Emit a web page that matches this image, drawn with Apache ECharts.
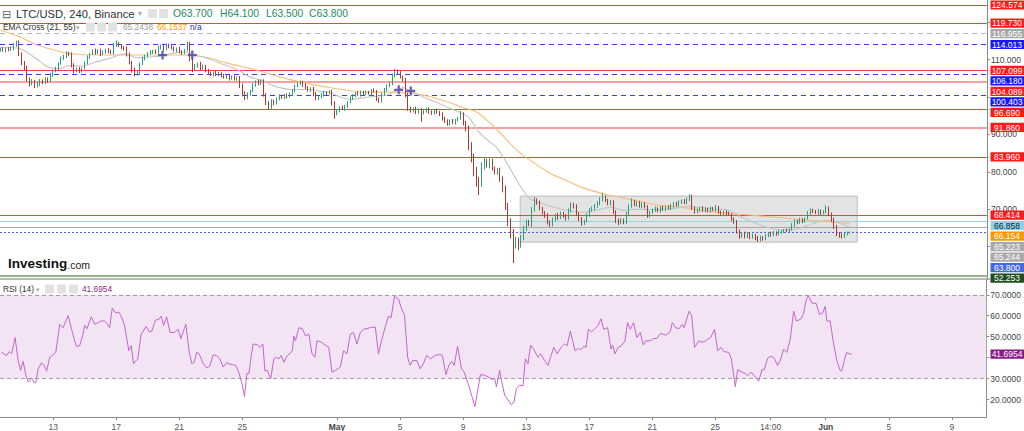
<!DOCTYPE html>
<html><head><meta charset="utf-8">
<script src="https://cdn.jsdelivr.net/npm/echarts@6/dist/echarts.min.js"></script>
<style>html,body{margin:0;padding:0;background:#fff}#c{width:1024px;height:431px}</style>
</head><body><div id="c"></div>
<script>
// ---- DATA (4-hour bars, bar 0 = 9 Apr 16:00) ----
const firstOpen = 112.5;
const closes = [
112.8,112.4,112.9,112.6,113.0,113.8,114.6,111.5,109.0,107.8,
104.8,103.6,104.2,102.9,103.5,104.4,103.9,104.8,104.3,105.8,
106.9,107.6,109.0,110.2,110.9,111.7,111.3,108.5,107.0,107.5,
106.9,107.6,109.2,110.6,111.5,112.3,111.8,112.4,111.5,112.0,
112.6,112.2,111.7,113.8,114.4,113.6,113.2,112.9,111.4,109.2,
107.3,106.2,106.6,108.8,110.3,111.0,111.6,112.0,112.3,111.9,
113.2,113.6,112.8,113.9,113.5,113.1,112.4,112.9,112.1,111.8,
112.5,114.2,110.1,107.4,108.2,108.9,107.8,108.3,107.0,106.4,
106.0,106.5,105.9,106.3,105.7,105.2,105.6,104.9,105.3,104.8,
105.2,103.0,101.0,99.9,100.8,101.6,103.2,104.0,103.5,104.2,
100.6,98.6,98.0,98.9,98.4,99.6,100.2,99.8,100.5,100.1,
100.7,101.8,102.9,103.6,104.0,103.2,102.4,101.8,102.3,100.8,
99.6,99.9,100.6,101.2,100.9,101.4,98.3,95.6,96.3,97.2,
96.8,97.5,98.6,99.7,100.4,101.0,100.6,101.3,100.8,101.2,
101.0,101.8,101.5,99.5,98.9,100.6,102.0,103.0,103.4,105.6,
107.0,106.4,105.3,104.6,100.5,97.0,96.3,96.9,96.0,96.5,
95.8,96.2,96.7,96.1,95.7,96.4,96.0,95.5,94.2,93.4,
92.9,93.6,93.1,93.8,94.3,95.4,93.0,91.6,87.0,84.0,
80.6,78.0,76.8,81.3,82.6,81.7,82.9,80.9,79.8,80.4,
78.2,75.5,71.0,67.0,63.8,61.0,61.8,60.5,62.4,64.8,
66.6,66.0,69.9,72.3,71.8,70.2,69.0,68.3,66.6,65.8,
67.3,68.4,67.8,68.9,68.2,67.6,69.6,71.3,70.8,68.8,
67.4,66.3,66.9,68.5,69.8,70.3,70.8,71.6,72.5,73.2,
72.4,71.5,72.0,69.4,67.0,66.5,67.2,66.6,68.8,70.9,
72.0,71.2,71.7,70.8,71.5,70.6,68.3,69.2,69.8,70.2,
69.6,70.4,70.0,70.6,70.3,70.9,71.6,71.2,71.9,72.3,
71.8,72.6,73.4,70.4,69.3,69.8,70.3,69.7,70.1,69.6,
70.2,69.9,70.6,69.2,68.8,69.3,68.9,68.7,67.4,66.6,
64.2,62.9,63.6,62.8,63.4,62.6,63.1,62.4,62.0,62.5,
62.2,62.9,63.5,63.2,63.8,63.4,63.9,64.0,64.4,64.2,
64.6,65.8,66.9,66.4,67.2,66.8,67.5,69.0,69.8,69.4,
69.0,69.6,68.9,69.3,70.2,68.7,67.2,65.4,63.6,63.1,
62.8,63.4,63.7,63.8];
const upWick = [
.4,.5,.3,.4,.5,.6,.4,.5,.4,.6, .5,.4,.6,.3,.5,.4,.3,.5,.4,.6,
.4,.5,.3,.6,.4,.5,.4,.6,.5,.4, .5,.3,.4,.5,.3,.4,.6,.3,.5,.4,
.3,.5,.4,.6,.7,.3,.5,.4,.6,.5, .4,.6,.3,.4,.5,.3,.4,.5,.3,.4,
.5,.4,.6,.4,.3,.5,.4,.3,.5,.4, .3,.6,.5,.4,.6,.3,.5,.4,.3,.5,
.4,.3,.5,.4,.3,.5,.4,.3,.4,.5, .3,.4,.6,.5,.4,.3,.5,.4,.6,.4,
.5,.4,.3,.5,.4,.3,.5,.4,.3,.4, .5,.3,.4,.5,.4,.3,.4,.5,.3,.4,
.5,.3,.4,.5,.3,.4,.5,.6,.4,.3, .5,.4,.3,.5,.4,.3,.5,.4,.3,.5,
.4,.3,.5,.4,.3,.5,.4,.3,.5,.6, .6,.4,.5,.4,.5,.6,.4,.3,.5,.4,
.5,.3,.4,.5,.3,.4,.5,.3,.4,.5, .6,.4,.5,.3,.4,.9,.5,.6,.8,.9,
.8,.7,.6,1.2,1.3,.8,.7,.6,.5,.6, .7,.6,.8,.7,.6,.9,.8,.6,.7,.8,
.6,.5,.7,1.0,.6,.5,.4,.5,.6,.4, .5,.4,.6,.5,.4,.5,.6,.5,.4,.5,
.4,.5,.3,.4,.5,.4,.6,.5,.7,1.2, .5,.4,.5,.4,.3,.5,.4,.3,.5,.4,
.9,.5,.4,.5,.3,.4,.5,.3,.4,.5, .3,.4,.5,.3,.4,.5,.3,.4,.5,.3,
.4,.5,.6,.5,.3,.4,.3,.5,.4,.3, .5,.4,.5,.3,.4,.3,.4,.5,.3,.4,
.5,.4,.3,.4,.5,.3,.4,.3,.5,.4, .3,.4,.3,.5,.4,.3,.5,.4,.3,.4,
.3,.5,.4,.3,.5,.4,.3,.5,.4,.3, .4,.5,.3,.4,.8,.5,.4,.5,.4,.3,
.4,.3,.3,.3];
const dnWick = [
.4,.3,.5,.4,.3,.5,.4,.6,.5,.7, .6,.8,.5,.5,.4,.6,.5,.4,.5,.3,
.4,.3,.5,.4,.3,.5,.4,.6,.7,.4, .5,.4,.3,.5,.4,.3,.5,.4,.6,.3,
.4,.5,.3,.4,.5,.3,.4,.5,.6,.5, .8,.7,.5,.4,.3,.5,.4,.3,.5,.4,
.3,.5,.4,.3,.5,.4,.3,.5,.4,.6, .4,.3,.6,.8,.5,.4,.6,.5,.4,.5,
.4,.5,.3,.4,.5,.3,.4,.5,.3,.4, .5,.6,.8,.7,.5,.4,.3,.5,.4,.3,
.5,.8,1.5,1.2,.6,.4,.5,.3,.4,.5, .3,.4,.5,.3,.4,.5,.3,.4,.5,.6,
.5,.4,.3,.5,.4,.3,.6,1.4,.5,.4, .3,.5,.4,.3,.5,.4,.3,.5,.4,.3,
.4,.5,.3,.6,.5,.4,.3,.5,.4,.3, .4,.5,.4,.5,.6,.7,.5,.4,.6,.5,
2.4,.5,.4,.6,.5,.4,.5,.6,.5,.4, .6,.5,.4,.5,.3,.4,.6,.8,1.2,1.5,
1.8,2.0,3.0,.8,.7,.6,.7,.6,.5,.6, .9,1.0,1.2,1.5,1.6,5.4,1.5,1.4,.8,.7,
.6,.5,.7,.5,.6,.5,.4,.6,.7,.5, .4,.5,.6,.4,.5,.6,.4,.5,.6,.5,
.6,.7,.5,.4,.5,.4,.5,.4,.5,.4, .5,.4,.5,.6,.7,.8,.5,.6,.5,.4,
.5,.4,.5,.4,.5,.4,.6,.5,.4,.5, .4,.5,.4,.5,.4,.5,.4,.5,.4,.5,
.4,.5,.4,.6,.5,.4,.5,.4,.5,.4, .5,.4,.5,.4,.5,.4,.5,.4,.6,.5,
.7,.8,.5,.6,.5,.6,.5,.7,.8,.6, .6,.5,.4,.5,.4,.5,.4,.5,.4,.3,
.4,.3,.5,.4,.3,.5,.4,.3,.5,.4, .3,.5,.4,.3,.4,.5,.6,.7,.8,.7,
.6,.5,.4,.2];
// EMA Cross (21, 55): vertices [bar, value]
const ema21 = [[0,113.2],[6,113.1],[9,112.4],[14,110.0],[18,108.0],[22,107.5],[26,108.4],[31,108.2],[36,109.3],[42,110.4],[47,111.5],[52,110.5],[59,110.8],[65,111.6],[70,112.0],[74,111.2],[77,110.7],[84,108.9],[90,107.3],[95,105.3],[100,104.3],[104,102.9],[111,102.0],[118,102.0],[122,101.4],[125,101.3],[128,100.3],[133,99.4],[140,100.0],[147,100.5],[151,101.8],[153,102.5],[155,101.9],[160,100.2],[167,98.2],[171,96.9],[175,95.8],[178,94.6],[182,90.6],[186,88.0],[189,86.2],[193,81.8],[195,79.3],[198,75.8],[201,73.0],[205,71.7],[209,70.8],[215,69.8],[222,69.2],[228,70.0],[232,70.5],[237,69.7],[242,70.0],[246,69.9],[255,70.1],[262,70.8],[266,70.5],[272,70.0],[277,69.8],[281,68.2],[285,66.9],[290,65.5],[295,64.6],[300,64.4],[304,64.9],[309,66.2],[314,67.0],[317,66.8],[320,66.0],[323,65.2438]];
const ema55 = [[-0.2,117.9],[7.4,116.0],[13.8,113.9],[20.6,112.5],[25.2,111.7],[37.7,111.2],[52.8,111.2],[70.7,111.2],[79.4,110.4],[85.8,109.1],[97.2,107.2],[110.9,104.5],[126.0,102.4],[138.9,101.3],[151.4,101.3],[163.9,100.0],[176.8,97.0],[181.7,95.7],[189.3,90.9],[195.8,86.1],[199.5,84.0],[208.3,79.9],[214.7,77.8],[221.5,75.7],[231.0,73.8],[240.5,72.5],[250.0,71.1],[261.3,70.3],[271.6,69.3],[284.1,68.5],[296.6,67.7],[306.8,67.1],[315.5,66.6],[323.1,66.1537]];
const crossPoints = [[61.6,111.2],[72.9,111.2],[151.4,101.9],[156.0,101.6]];
// RSI (14) vertices [bar, value]
const rsi = [[0.4,42.5],[2.3,41.0],[3.3,42.9],[4.2,41.8],[5.5,49.6],[6.7,38.6],[7.6,33.9],[8.6,38.2],[9.6,31.6],[10.5,28.4],[11.8,30.3],[12.7,28.1],[13.4,28.0],[14.3,34.7],[15.6,37.5],[16.6,36.3],[17.5,33.5],[18.7,40.2],[20.0,41.3],[21.0,42.5],[22.5,55.9],[23.8,54.3],[25.7,60.1],[27.0,53.5],[28.8,45.4],[30.1,45.7],[31.4,51.2],[32.0,55.4],[32.9,53.8],[34.5,59.5],[35.8,55.9],[37.0,56.7],[38.3,57.5],[39.6,57.5],[40.2,56.7],[41.5,54.3],[42.5,63.7],[43.7,61.4],[45.0,61.7],[45.9,59.8],[47.2,55.1],[48.8,43.3],[49.7,45.7],[50.6,37.1],[52.2,39.4],[53.5,51.2],[55.4,54.8],[56.6,52.3],[57.6,52.7],[58.9,57.9],[60.2,58.2],[61.1,59.8],[62.0,55.4],[63.2,59.5],[64.5,52.0],[66.1,52.0],[66.7,52.7],[67.6,53.5],[68.6,49.1],[69.9,53.8],[70.5,55.9],[71.8,42.5],[72.8,37.1],[73.7,37.8],[74.6,42.5],[75.6,41.8],[77.1,37.1],[78.4,35.0],[79.6,36.0],[80.9,41.3],[82.2,41.0],[83.4,39.4],[84.7,35.5],[86.0,37.5],[87.0,37.1],[88.2,36.6],[89.5,36.3],[90.7,32.8],[92.0,26.9],[92.8,21.4],[93.7,32.4],[94.5,32.4],[95.4,41.0],[96.1,46.5],[97.7,46.2],[98.7,44.9],[99.8,46.5],[100.6,33.6],[101.5,33.9],[102.8,30.0],[104.0,39.4],[104.9,40.2],[105.9,39.4],[106.8,41.0],[107.8,37.8],[109.1,41.0],[110.0,41.8],[111.0,43.3],[111.6,50.4],[112.2,48.0],[113.5,54.3],[114.8,53.8],[116.0,50.4],[117.3,51.2],[118.5,41.8],[119.6,40.2],[120.4,48.0],[121.7,47.6],[123.0,46.5],[124.9,44.9],[126.1,33.1],[127.4,33.9],[129.3,35.5],[130.5,43.3],[131.8,41.8],[133.1,51.2],[134.3,52.0],[135.6,46.5],[136.9,52.0],[138.1,53.5],[140.7,54.3],[142.6,54.6],[143.8,41.8],[145.1,48.8],[146.3,54.3],[147.6,59.8],[148.6,59.0],[149.9,69.2],[151.4,68.0],[152.7,62.9],[153.7,60.6],[154.9,40.2],[155.8,36.3],[156.8,38.6],[158.4,38.6],[159.6,34.7],[160.9,37.1],[162.1,41.0],[163.7,39.4],[165.3,41.0],[167.2,41.5],[168.1,41.0],[169.5,31.9],[170.6,36.3],[171.6,38.2],[172.6,36.3],[173.9,45.4],[175.4,34.7],[176.4,33.1],[177.9,27.6],[179.2,22.2],[180.5,16.7],[181.7,25.3],[182.6,31.9],[184.2,31.6],[185.5,30.8],[186.8,29.7],[188.0,30.0],[188.7,26.1],[189.9,33.9],[190.6,29.2],[191.8,22.2],[193.1,19.8],[194.4,17.5],[195.4,19.0],[196.3,25.3],[197.5,26.9],[198.8,26.5],[199.7,39.4],[200.7,37.1],[201.7,46.0],[203.2,43.3],[204.5,40.2],[205.5,41.8],[207.0,38.6],[208.3,36.3],[209.5,41.0],[210.5,44.9],[211.8,41.8],[213.3,44.9],[214.6,46.5],[215.6,45.7],[216.8,52.7],[217.7,48.0],[218.6,43.3],[219.9,44.4],[220.9,43.8],[221.9,45.4],[222.8,44.9],[223.7,53.5],[224.9,52.3],[225.9,53.5],[227.2,55.1],[228.5,58.5],[229.5,53.5],[231.0,54.3],[232.3,44.1],[232.9,46.0],[233.8,41.8],[235.0,44.9],[236.3,45.7],[237.6,48.0],[238.6,56.7],[239.6,53.5],[240.9,56.7],[242.1,49.6],[243.4,52.0],[244.6,46.0],[245.5,48.0],[247.2,48.0],[248.4,49.1],[249.7,49.1],[251.2,51.6],[253.1,50.7],[254.8,52.3],[255.6,56.7],[256.9,54.3],[258.2,53.8],[259.4,55.9],[260.1,54.3],[262.0,62.2],[263.0,60.1],[264.1,44.9],[265.7,48.0],[267.0,47.3],[268.3,48.0],[270.2,49.6],[271.7,53.5],[272.9,43.3],[274.2,44.9],[275.2,42.9],[277.1,42.5],[278.1,39.4],[279.6,26.1],[280.5,34.2],[282.2,33.1],[283.4,32.4],[284.3,31.3],[285.6,33.1],[287.2,30.8],[288.5,28.7],[289.8,34.4],[290.6,34.2],[291.9,39.7],[293.2,40.7],[294.4,39.7],[295.7,36.3],[296.7,38.6],[298.0,44.1],[299.2,42.5],[300.5,48.8],[301.8,62.2],[302.8,57.5],[304.3,58.2],[305.5,60.6],[306.6,67.6],[307.4,69.5],[308.7,66.1],[310.4,65.8],[311.6,60.6],[312.9,61.4],[313.8,64.5],[314.4,57.5],[315.7,57.5],[316.9,47.3],[318.2,38.6],[319.5,33.9],[320.1,33.5],[321.4,40.2],[322.0,42.5],[323.0,41.8],[323.9,41.6954]];
const rsiLast = 41.6954;
const rsiBand = [30, 70];
// drawn levels (price) and their kind
const levelValues = [124.574,119.730,116.955,114.013,107.099,106.180,104.089,100.403,96.690,91.860,83.960,68.414,66.858,65.223,63.800,52.253];
const levelKinds  = ['red','red','greyDash','blueDash','red','blueDash','pink','blueDash','red','pink','red','red','cyan','grey','priceDot','green'];
// right-hand price tags, top to bottom
const tagValues = [124.574,119.730,116.955,114.013,107.099,106.180,104.089,100.403,96.690,91.860,83.960,68.414,66.858,66.154,65.223,65.244,63.800,52.253];
const tagKinds  = ['red','red','grey','blue','red','blue','red','blue','red','red','red','red','cyan','orange','grey','grey','price','green'];
// rectangle drawing: bars and prices
const boxBars = [197.6, 325.8];
const boxPrices = [73.5, 61.2];
// axes
const xTickBars  = [20,44,68,92,128,152,176,200,224,248,272,293,314,338,362];
const xTickTexts = ['13','17','21','25','May','5','9','13','17','21','25','14:00','Jun','5','9'];
const priceTicks = [60,70,80,90,100,110,120];
const priceTickLabels = [70,80,90,110];      // the others sit under price tags
const rsiTicks = [20,30,40,50,60,70];
const rsiTickLabels = [20,30,50,60,70];      // 40 sits under the RSI tag
const ohlc = {O:'63.700', H:'64.100', L:'63.500', C:'63.800'};
const emaLegend = ['65.2438','66.1537','n/a'];

// ---- CHART ----
const FONT = '"Liberation Sans", Arial, sans-serif';
const chart = echarts.init(document.getElementById('c'), null, {renderer:'svg', width:1024, height:431});
const candles = closes.map((c,i) => {
  const o = i === 0 ? firstOpen : closes[i-1];
  return [i, o, c, +(Math.min(o,c) - dnWick[i]).toFixed(3), +(Math.max(o,c) + upWick[i]).toFixed(3)];
});
const lineKind = {
  red:{color:'#ff3b3b', width:1, type:'solid'},
  pink:{color:'#f6a0a0', width:2, type:'solid'},
  greyDash:{color:'#b4b4b4', width:1.2, type:[5,4]},
  blueDash:{color:'#3a3aff', width:1, type:[5,4]},
  cyan:{color:'#92d6e6', width:1.2, type:'solid'},
  grey:{color:'#a8a8a8', width:1, type:'solid'},
  priceDot:{color:'#4a64e0', width:1, type:[2,2]},
  green:{color:'#6f9a62', width:1.5, type:'solid'}
};
const tagKind = {
  red:{bg:'#ff1a1a', fg:'#fff'}, blue:{bg:'#1717ff', fg:'#fff'}, grey:{bg:'#a9a9a9', fg:'#fff'},
  cyan:{bg:'#8fd2e3', fg:'#123'}, orange:{bg:'#ff9800', fg:'#fff'}, price:{bg:'#4169e1', fg:'#fff'},
  green:{bg:'#1f4d1f', fg:'#fff'}
};
const XMIN = -0.227, XMAX = 375.1;
const option = {
  animation:false,
  backgroundColor:'#fff',
  grid:[{left:0,right:34,top:0,height:279},{left:0,right:34,top:279,height:140}],
  xAxis:[
    {gridIndex:0,type:'value',min:XMIN,max:XMAX,show:false},
    {gridIndex:1,type:'value',min:XMIN,max:XMAX,
      axisLine:{show:true,onZero:false,lineStyle:{color:'#8a8a8a',width:1}},
      axisTick:{show:true,customValues:xTickBars,length:3,lineStyle:{color:'#8a8a8a'}},
      axisLabel:{customValues:xTickBars,margin:5,fontSize:8.5,color:'#555',fontFamily:FONT,
        formatter:v=>{const t=xTickTexts[xTickBars.indexOf(v)]; return (t==='May'||t==='Jun')?'{b|'+t+'}':t;},
        rich:{b:{fontWeight:'bold',fontSize:8.5,color:'#444',fontFamily:FONT}}},
      splitLine:{show:false}}
  ],
  yAxis:[
    {gridIndex:0,type:'value',position:'right',min:51.35,max:125.91,
      axisLine:{show:true,onZero:false,lineStyle:{color:'#8a8a8a'}},
      axisTick:{show:true,customValues:priceTicks,length:3,lineStyle:{color:'#8a8a8a'}},
      axisLabel:{customValues:priceTickLabels,formatter:v=>v.toFixed(3),fontSize:8.5,color:'#444',margin:4,fontFamily:FONT},
      splitLine:{show:false}},
    {gridIndex:1,type:'value',position:'right',min:11.65,max:77.53,
      axisLine:{show:true,onZero:false,lineStyle:{color:'#8a8a8a'}},
      axisTick:{show:true,customValues:rsiTicks,length:3,lineStyle:{color:'#8a8a8a'}},
      axisLabel:{customValues:rsiTickLabels,formatter:v=>v.toFixed(4),fontSize:8.5,color:'#444',margin:4,fontFamily:FONT},
      splitLine:{show:false}}
  ],
  series:[
    {type:'line',name:'EMA55',xAxisIndex:0,yAxisIndex:0,data:ema55,showSymbol:false,smooth:0.3,z:2,silent:true,
      lineStyle:{color:'#fbbd79',width:1.1},
      markArea:{silent:true,z:1,itemStyle:{color:'rgba(170,170,170,0.33)',borderColor:'#bdbdbd',borderWidth:1},
        data:[[{xAxis:boxBars[0],yAxis:boxPrices[0]},{xAxis:boxBars[1],yAxis:boxPrices[1]}]]}},
    {type:'line',name:'EMA21',xAxisIndex:0,yAxisIndex:0,data:ema21,showSymbol:false,smooth:0.3,z:2,silent:true,
      lineStyle:{color:'#c4c4c4',width:1.1},
      markLine:{silent:true,z:1,symbol:['none','none'],label:{show:false},
        data:levelValues.map((v,k)=>({yAxis:v,lineStyle:lineKind[levelKinds[k]]}))}},
    {type:'candlestick',name:'LTC/USD',xAxisIndex:0,yAxisIndex:0,data:candles,barWidth:1.3,z:4,silent:true,
      itemStyle:{color:'#27a27f',color0:'#ab3a30',borderColor:'#27a27f',borderColor0:'#ab3a30',borderWidth:1}},
    {type:'scatter',name:'cross',xAxisIndex:0,yAxisIndex:0,data:crossPoints,z:6,silent:true,
      symbol:'path://M3,0H5V3H8V5H5V8H3V5H0V3H3Z',symbolSize:9,itemStyle:{color:'#5050b4',opacity:0.9}},
    {type:'line',name:'RSI',xAxisIndex:1,yAxisIndex:1,data:rsi,showSymbol:false,z:3,silent:true,
      lineStyle:{color:'#c266cc',width:1},
      markArea:{silent:true,z:1,itemStyle:{color:'#f2e4f3'},data:[[{yAxis:rsiBand[0]},{yAxis:rsiBand[1]}]]},
      markLine:{silent:true,z:2,symbol:['none','none'],label:{show:false},
        lineStyle:{color:'#a0a0a0',width:1,type:[4,3]},data:rsiBand.map(v=>({yAxis:v}))}}
  ]
};
chart.setOption(option);

function txt(x,y,text,size,color,extra){
  return Object.assign({type:'text',x:x,y:y,z:60,silent:true,
    style:Object.assign({text:text,fill:color,font:size+'px '+FONT,verticalAlign:'middle',textVerticalAlign:'middle'},extra||{})});
}
function icon(x,y){return {type:'rect',z:60,silent:true,shape:{x:x,y:y-4.5,width:9,height:9,r:1},style:{fill:'#e2e2e2'}};}
const g = [];
// separator between panes
g.push({type:'line',z:40,silent:true,shape:{x1:0,y1:279,x2:990,y2:279},style:{stroke:'#a0a0a0',lineWidth:1.5}});
// header row 1
g.push({type:'rect',z:55,silent:true,shape:{x:0,y:7,width:350,height:13},style:{fill:'rgba(255,255,255,0.85)'}});
g.push(txt(2,13.5,'⊟',11,'#666'));
g.push(txt(16,13.5,'LTC/USD, 240, Binance',11.2,'#333'));
g.push(txt(138,13.5,'▾',8,'#aaa'));
g.push(icon(148,13.5)); g.push(icon(159,13.5));
g.push(txt(173,13.5,'O'+ohlc.O,10.3,'#1f8a5c'));
g.push(txt(220,13.5,'H'+ohlc.H,10.3,'#1f8a5c'));
g.push(txt(266,13.5,'L'+ohlc.L,10.3,'#1f8a5c'));
g.push(txt(309,13.5,'C'+ohlc.C,10.3,'#1f8a5c'));
// header row 2
g.push(txt(3,27,'EMA Cross (21, 55)',8.3,'#333'));
g.push(txt(76,27,'▾',7,'#aaa'));
g.push(icon(86,27)); g.push(icon(97,27)); g.push(icon(108,27));
g.push(txt(123,27,emaLegend[0],8.3,'#9a9a9a'));
g.push(txt(157,27,emaLegend[1],8.3,'#ff9800'));
g.push(txt(190,27,emaLegend[2],8.3,'#2a2aa8'));
// RSI header
g.push(txt(3,289,'RSI (14)',8.3,'#333'));
g.push(txt(36,289,'▾',7,'#aaa'));
g.push(icon(45,289)); g.push(icon(57,289)); g.push(icon(69,289));
g.push(txt(82,289,rsiLast.toFixed(4),8.3,'#8e1d8c'));
// logo
g.push({type:'text',x:8,y:270,z:60,silent:true,style:{text:'{a|Investing}{b|.com}',verticalAlign:'bottom',
  rich:{a:{font:'bold 13.5px '+FONT,fill:'#111',verticalAlign:'bottom'},b:{font:'10.5px '+FONT,fill:'#222',verticalAlign:'bottom'}}}});
// price tags
let prev = -1e9;
tagValues.forEach((v,k)=>{
  let y = chart.convertToPixel({yAxisIndex:0}, v);
  y = Math.max(y, prev + 10.5); prev = y;
  const st = tagKind[tagKinds[k]];
  g.push({type:'rect',z:70,silent:true,shape:{x:990.5,y:y-4.6,width:33.5,height:9.2},style:{fill:st.bg}});
  const t = txt(1007,y+0.3,v.toFixed(3),8.5,st.fg,{align:'center',textAlign:'center'}); t.z = 71; g.push(t);
});
// RSI tag
const ry = chart.convertToPixel({yAxisIndex:1}, rsiLast);
g.push({type:'rect',z:70,silent:true,shape:{x:990.5,y:ry-4.6,width:33.5,height:9.2},style:{fill:'#8b1a89'}});
const rt = txt(1007,ry+0.3,rsiLast.toFixed(4),8.5,'#fff',{align:'center',textAlign:'center'}); rt.z=71; g.push(rt);
chart.setOption({graphic:g});
</script>
</body></html>
